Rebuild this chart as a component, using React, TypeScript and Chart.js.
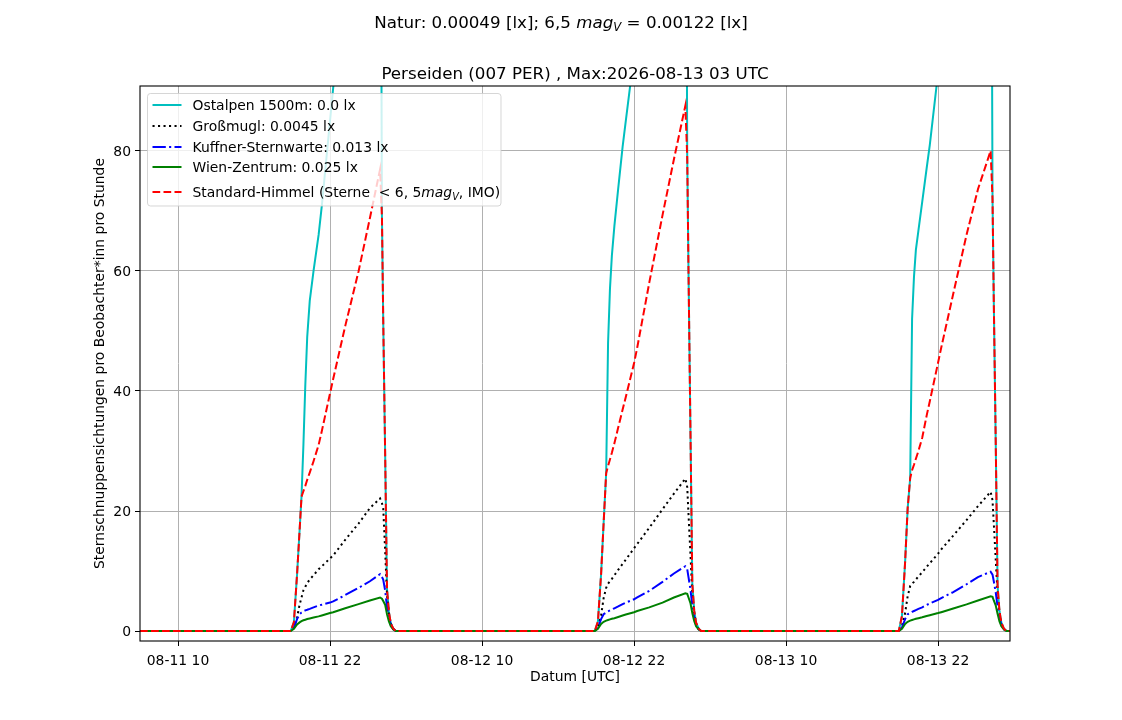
import { useEffect, useRef } from "react";
import { Chart, registerables } from "chart.js";

Chart.register(...registerables);

const FONT = "'DejaVu Sans', sans-serif";

// hours since 2026-08-11 00:00 UTC
const hours = [
  7.0,
  18.9, 19.15, 19.4, 19.6, 19.75, 19.9, 20.05, 20.2, 20.4, 20.7, 21.1, 21.35, 22.0,
  22.25, 23.2, 24.25, 25.15, 25.95, 26.1, 26.2, 26.35, 26.5, 26.65, 26.8, 27.0, 27.2,
  42.9, 43.15, 43.4, 43.6, 43.8, 43.95, 44.1, 44.25, 44.45, 44.75, 45.1, 45.35, 46.0,
  46.25, 47.2, 48.25, 49.15, 50.05, 50.2, 50.3, 50.45, 50.6, 50.75, 50.9, 51.1, 51.3,
  66.9, 67.15, 67.4, 67.6, 67.8, 67.95, 68.1, 68.25, 68.45, 68.75, 69.1, 69.35, 70.0,
  70.25, 71.2, 72.25, 73.15, 74.15, 74.3, 74.4, 74.55, 74.7, 74.85, 75.0, 75.2, 75.4,
  75.68,
];

const ostalpen = [
  0,
  0, 1.5, 9.5, 16.8, 22.4, 31, 41, 49, 55, 60, 66, 70.8, 85,
  90.5, 111, 131, 148, 163, 69, 52, 30, 7, 3.2, 1.3, 0.4, 0,
  0, 1.6, 9.5, 18, 26.3, 48, 57, 62.5, 67.5, 73.7, 80.7, 85, 96,
  100, 116, 134, 149, 164, 79, 60, 34, 8, 3.4, 1.4, 0.4, 0,
  0, 2.5, 11.5, 20.4, 25.5, 52, 59, 63.5, 66.7, 71.5, 77.1, 81, 93,
  97.5, 114, 132, 147, 163, 72, 55, 32, 7.5, 3.3, 1.4, 0.4, 0,
  0,
];

const grossmugl = [
  0,
  0, 0.5, 2.3, 4.4, 5.6, 6.8, 7.4, 8.0, 8.6, 9.3, 10.3, 10.8, 12.1,
  12.6, 15.2, 17.9, 20.5, 22.1, 21.3, 20.5, 13.5, 6.0, 2.8, 1.2, 0.35, 0,
  0, 0.6, 2.6, 5.5, 7.2, 7.9, 8.3, 8.7, 9.3, 10.2, 11.2, 11.9, 13.8,
  14.5, 17.2, 20.3, 22.9, 25.4, 24.0, 19.5, 13, 6.2, 3.0, 1.2, 0.35, 0,
  0, 0.8, 3.0, 5.8, 7.5, 7.9, 8.2, 8.6, 9.1, 9.8, 10.7, 11.3, 12.9,
  13.6, 15.9, 18.5, 20.8, 23.2, 21.8, 18, 12, 6.2, 3.0, 1.2, 0.35, 0,
  0,
];

const kuffner = [
  0,
  0, 0.6, 2.0, 2.8, 3.1, 3.3, 3.45, 3.55, 3.7, 3.95, 4.25, 4.4, 4.75,
  4.95, 6.0, 7.2, 8.3, 9.5, 9.0, 8.6, 6.8, 4.0, 2.2, 1.0, 0.3, 0,
  0, 0.6, 2.0, 2.8, 3.1, 3.3, 3.45, 3.6, 3.8, 4.1, 4.5, 4.75, 5.3,
  5.6, 6.7, 8.2, 9.6, 10.8, 10.3, 9.0, 7.0, 4.3, 2.3, 1.0, 0.3, 0,
  0, 0.6, 2.0, 2.8, 3.0, 3.2, 3.35, 3.5, 3.7, 3.95, 4.35, 4.6, 5.2,
  5.5, 6.5, 7.8, 9.0, 9.9, 9.4, 8.3, 6.5, 4.1, 2.2, 1.0, 0.3, 0,
  0,
];

const wienZentrum = [
  0,
  0, 0.4, 1.1, 1.45, 1.65, 1.8, 1.9, 2.0, 2.1, 2.25, 2.45, 2.6, 3.0,
  3.15, 3.8, 4.5, 5.1, 5.6, 5.4, 5.0, 4.4, 2.8, 1.6, 0.8, 0.25, 0,
  0, 0.4, 1.2, 1.55, 1.75, 1.85, 1.95, 2.05, 2.15, 2.35, 2.6, 2.75, 3.15,
  3.35, 3.95, 4.75, 5.6, 6.3, 6.2, 5.6, 4.7, 3.0, 1.7, 0.8, 0.25, 0,
  0, 0.4, 1.2, 1.55, 1.75, 1.85, 1.95, 2.05, 2.15, 2.3, 2.5, 2.65, 3.0,
  3.15, 3.75, 4.45, 5.1, 5.8, 5.7, 5.1, 4.3, 2.9, 1.6, 0.8, 0.25, 0,
  0,
];

const standardHimmel = [
  0,
  0, 1.5, 9.5, 16.8, 22.4, 23.3, 24.2, 25.2, 26.4, 28.3, 31.0, 33.3, 39.6,
  42.0, 50.8, 59.9, 68.8, 76.9, 69, 52, 30, 7, 3.2, 1.3, 0.4, 0,
  0, 1.6, 9.5, 18, 26.3, 27.5, 28.6, 29.7, 31.3, 33.9, 36.9, 39.0, 44.6,
  47.2, 58.0, 69.3, 78.6, 87.5, 79, 60, 34, 8, 3.4, 1.4, 0.4, 0,
  0, 2.5, 11.5, 20.4, 25.5, 26.8, 27.7, 28.7, 30.0, 32.2, 35.9, 38.3, 44.7,
  47.2, 56.2, 66.0, 73.6, 80.0, 72, 55, 32, 7.5, 3.3, 1.4, 0.4, 0,
  0,
];

const xTickHours = [10, 22, 34, 46, 58, 70];
const xTickLabels = ["08-11 10", "08-11 22", "08-12 10", "08-12 22", "08-13 10", "08-13 22"];
const yTicks = [0, 20, 40, 60, 80];

const DASHED = [7.7, 3.3];
const DOTTED = [2.1, 3.4];
const DASHDOT = [13.3, 3.3, 2.1, 3.3];

const series = [
  { label: "Ostalpen 1500m: 0.0 lx", values: ostalpen, color: "#00bfbf", dash: [] as number[], order: 5 },
  { label: "Großmugl: 0.0045 lx", values: grossmugl, color: "#000000", dash: DOTTED, order: 4 },
  { label: "Kuffner-Sternwarte: 0.013 lx", values: kuffner, color: "#0000ff", dash: DASHDOT, order: 3 },
  { label: "Wien-Zentrum: 0.025 lx", values: wienZentrum, color: "#008000", dash: [] as number[], order: 2 },
  { label: "Standard-Himmel", values: standardHimmel, color: "#ff0000", dash: DASHED, order: 1 },
];

type Seg = { t: string; italic?: boolean; sub?: boolean };

function drawRich(ctx: CanvasRenderingContext2D, segs: Seg[], x: number, y: number, size: number, center: boolean) {
  const fontOf = (s: Seg) => `${s.italic ? "italic " : ""}${s.sub ? size * 0.7 : size}px ${FONT}`;
  let width = 0;
  for (const s of segs) {
    ctx.font = fontOf(s);
    width += ctx.measureText(s.t).width;
  }
  let cx = center ? x - width / 2 : x;
  ctx.textAlign = "left";
  ctx.textBaseline = "alphabetic";
  for (const s of segs) {
    ctx.font = fontOf(s);
    ctx.fillText(s.t, cx, s.sub ? y + size * 0.22 : y);
    cx += ctx.measureText(s.t).width;
  }
}

const decorations = {
  id: "decorations",
  afterDraw(chart: Chart) {
    const { ctx, chartArea: a } = chart;
    ctx.save();
    ctx.fillStyle = "#000";

    // frame
    ctx.strokeStyle = "#000";
    ctx.lineWidth = 1.1;
    ctx.setLineDash([]);
    ctx.strokeRect(a.left, a.top, a.right - a.left, a.bottom - a.top);

    // titles
    drawRich(ctx, [
      { t: "Natur: 0.00049 [lx]; 6,5 " },
      { t: "mag", italic: true },
      { t: "V", italic: true, sub: true },
      { t: " = 0.00122 [lx]" },
    ], 561, 27.5, 16.7, true);
    drawRich(ctx, [{ t: "Perseiden (007 PER) , Max:2026-08-13 03 UTC" }], (a.left + a.right) / 2, 79, 16.7, true);

    // axis labels
    drawRich(ctx, [{ t: "Datum [UTC]" }], (a.left + a.right) / 2, 681, 13.9, true);
    ctx.save();
    ctx.translate(104, (a.top + a.bottom) / 2);
    ctx.rotate(-Math.PI / 2);
    drawRich(ctx, [{ t: "Sternschnuppensichtungen pro Beobachter*inn pro Stunde" }], 0, 0, 13.9, true);
    ctx.restore();

    // legend
    const bx = 147.5, by = 93.5, bw = 353.5, bh = 112.5, r = 3;
    ctx.beginPath();
    ctx.moveTo(bx + r, by);
    ctx.arcTo(bx + bw, by, bx + bw, by + bh, r);
    ctx.arcTo(bx + bw, by + bh, bx, by + bh, r);
    ctx.arcTo(bx, by + bh, bx, by, r);
    ctx.arcTo(bx, by, bx + bw, by, r);
    ctx.closePath();
    ctx.fillStyle = "rgba(255,255,255,0.8)";
    ctx.fill();
    ctx.strokeStyle = "rgba(204,204,204,0.8)";
    ctx.lineWidth = 1;
    ctx.stroke();

    const rowY = [105, 126, 147, 167, 192];
    series.forEach((s, i) => {
      ctx.beginPath();
      ctx.strokeStyle = s.color;
      ctx.lineWidth = 2;
      ctx.setLineDash(s.dash);
      ctx.moveTo(152.5, rowY[i]);
      ctx.lineTo(181.5, rowY[i]);
      ctx.stroke();
      ctx.setLineDash([]);
      ctx.fillStyle = "#000";
      const segs: Seg[] = i < 4
        ? [{ t: s.label }]
        : [
            { t: "Standard-Himmel (Sterne " },
            { t: " < 6, 5" },
            { t: "mag", italic: true },
            { t: "V", italic: true, sub: true },
            { t: ", IMO)" },
          ];
      drawRich(ctx, segs, 192.5, rowY[i] + 5, 13.9, false);
    });

    ctx.restore();
  },
};

export default function App() {
  const canvasRef = useRef<HTMLCanvasElement>(null);

  useEffect(() => {
    document.body.style.margin = "0";
    if (!canvasRef.current) return;

    const tickFont = { family: FONT, size: 13.9 };

    const chart = new Chart(canvasRef.current, {
      type: "line",
      data: {
        datasets: series.map((s) => ({
          label: s.label,
          data: hours.map((h, i) => ({ x: h, y: s.values[i] })),
          borderColor: s.color,
          borderWidth: 2,
          borderDash: s.dash,
          pointRadius: 0,
          fill: false,
          tension: 0,
          order: s.order,
        })),
      },
      options: {
        responsive: false,
        animation: false,
        layout: { padding: { left: 0, right: 112, top: 86, bottom: 39 } },
        plugins: {
          legend: { display: false },
          title: { display: false },
          tooltip: { enabled: false },
        },
        scales: {
          x: {
            type: "linear",
            min: 7,
            max: 75.68,
            afterBuildTicks: (axis: any) => {
              axis.ticks = xTickHours.map((value) => ({ value }));
            },
            afterFit: (axis: any) => {
              axis.height = 40;
            },
            ticks: {
              autoSkip: false,
              maxRotation: 0,
              font: tickFont,
              color: "#000",
              padding: 7,
              callback: (_v: any, i: number) => xTickLabels[i],
            },
            grid: { color: "#b0b0b0", lineWidth: 1, tickColor: "#000", tickLength: 5 },
            border: { display: false },
          },
          y: {
            type: "linear",
            min: -1.65,
            max: 90.8,
            afterBuildTicks: (axis: any) => {
              axis.ticks = yTicks.map((value) => ({ value }));
            },
            afterFit: (axis: any) => {
              axis.width = 140;
            },
            ticks: { font: tickFont, color: "#000", padding: 4, labelOffset: 1.5 },
            grid: { color: "#b0b0b0", lineWidth: 1, tickColor: "#000", tickLength: 5 },
            border: { display: false },
          },
        },
      },
      plugins: [decorations],
    });

    return () => chart.destroy();
  }, []);

  return (
    <div style={{ width: 1122, height: 720, background: "#fff" }}>
      <canvas ref={canvasRef} width={1122} height={720} />
    </div>
  );
}
